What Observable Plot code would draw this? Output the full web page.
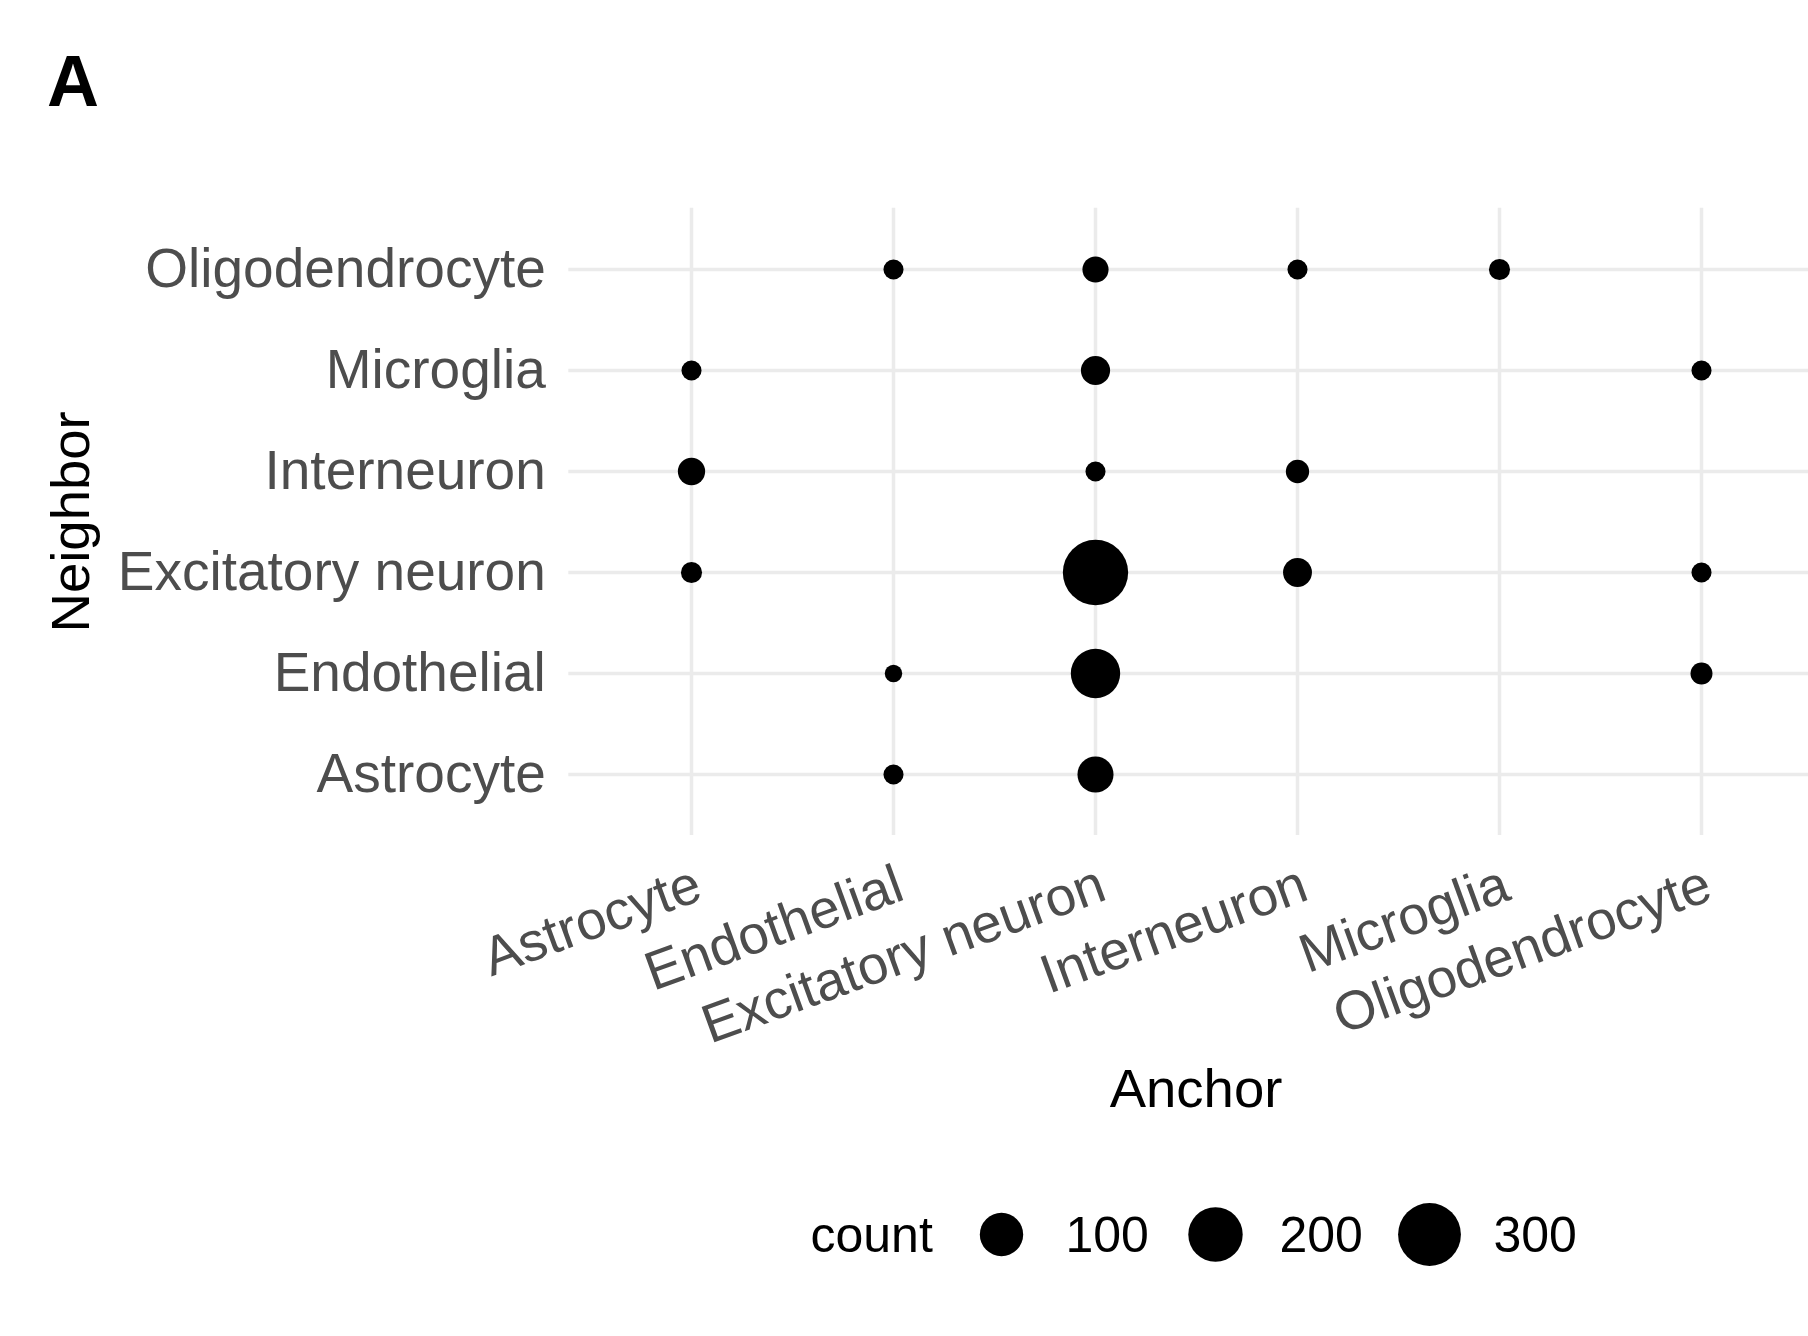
<!DOCTYPE html>
<html>
<head>
<meta charset="utf-8">
<script src="https://cdn.jsdelivr.net/npm/d3@7"></script>
<script src="https://cdn.jsdelivr.net/npm/@observablehq/plot@0.6"></script>
<style>
  html, body { margin: 0; padding: 0; background: #ffffff; overflow: hidden; }
  body { width: 1808px; height: 1336px; position: relative; font-family: "Liberation Sans", Arial, Helvetica, sans-serif; }
  #tag { position: absolute; left: 47px; top: 45px; font-size: 72px; line-height: 72px; font-weight: bold; color: #000; }
  #chart svg, #legend svg { display: block; max-width: none; }
</style>
</head>
<body>
<div id="chart"></div>
<div id="legend"></div>
<div id="tag">A</div>
<script>
// ---- data ----
const anchors = ["Astrocyte", "Endothelial", "Excitatory neuron", "Interneuron", "Microglia", "Oligodendrocyte"];
const neighbors = ["Astrocyte", "Endothelial", "Excitatory neuron", "Interneuron", "Microglia", "Oligodendrocyte"];
// counts per Neighbor row, listed by Anchor (same order as anchors); null = no point
const countsAstrocyte       = [null, 4, 53, null, null, null];
const countsEndothelial     = [null, 3, 150, null, null, 6];
const countsExcitatory      = [5, null, 333, 22, null, 4];
const countsInterneuron     = [17, null, 4, 8, null, null];
const countsMicroglia       = [4, null, 23, null, null, 4];
const countsOligodendrocyte = [null, 4, 14, 4, 5, null];
const legendValues = [100, 200, 300];

const rows = [countsAstrocyte, countsEndothelial, countsExcitatory, countsInterneuron, countsMicroglia, countsOligodendrocyte];
const table = [];
rows.forEach((row, i) => row.forEach((c, j) => {
  if (c != null) table.push({Anchor: anchors[j], Neighbor: neighbors[i], count: c});
}));

// ggplot-like size scale: radius linear in sqrt(count - min)
const cMin = d3.min(table, d => d.count);
const cMax = d3.max(table, d => d.count);
const rScale = {
  type: "linear",
  transform: v => Math.sqrt(Math.max(0, v - cMin)),
  domain: [0, Math.sqrt(cMax - cMin)],
  range: [8.7, 32.65]
};

const font = "Liberation Sans, Arial, Helvetica, sans-serif";
const W = 1808, H = 1140;
const mTop = 207.8, mBottom = H - 834.9, mLeft = 568.3, mRight = W - 1822.8;

const chart = Plot.plot({
  width: W,
  height: H,
  marginTop: mTop,
  marginBottom: mBottom,
  marginLeft: mLeft,
  marginRight: mRight,
  style: {fontFamily: font, background: "white", overflow: "hidden"},
  x: {type: "point", domain: anchors, padding: 0.6, axis: null},
  y: {type: "point", domain: neighbors.slice().reverse(), padding: 0.6, axis: null},
  r: rScale,
  marks: [
    Plot.gridX({stroke: "#EBEBEB", strokeOpacity: 1, strokeWidth: 3.5}),
    Plot.gridY({stroke: "#EBEBEB", strokeOpacity: 1, strokeWidth: 3.5}),
    Plot.dot(table, {x: "Anchor", y: "Neighbor", r: "count", fill: "black", stroke: "none"}),
    // y tick labels
    Plot.text(neighbors, {y: d => d, frameAnchor: "left", textAnchor: "end", dx: -23, fontSize: 55, fill: "#4D4D4D"}),
    // x tick labels (rotated)
    Plot.text(anchors, {x: d => d, frameAnchor: "bottom", textAnchor: "end", lineAnchor: "top", rotate: -20, dy: 27, fontSize: 54.5, fill: "#4D4D4D"}),
    // axis titles
    Plot.text(["Anchor"], {frameAnchor: "bottom", textAnchor: "middle", lineAnchor: "bottom", dy: 1106.7 - 834.9, fontSize: 54.5, fill: "black"}),
    Plot.text(["Neighbor"], {frameAnchor: "left", textAnchor: "middle", lineAnchor: "bottom", rotate: -90, dx: 88 - mLeft, fontSize: 54.5, fill: "black"})
  ]
});
document.getElementById("chart").appendChild(chart);

// ---- legend ----
const LH = 188;
const legend = Plot.plot({
  width: W,
  height: LH,
  marginTop: 0,
  marginBottom: 0,
  marginLeft: 1000.7,
  marginRight: W - 1429.7,
  style: {fontFamily: font, background: "white"},
  x: {type: "point", domain: legendValues, padding: 0, axis: null},
  r: rScale,
  marks: [
    Plot.dot(legendValues, {x: d => d, r: d => d, fill: "black", stroke: "none"}),
    Plot.text(legendValues, {x: d => d, text: d => String(d), textAnchor: "start", dx: 64, dy: 1, fontSize: 50, fill: "black"}),
    Plot.text(["count"], {frameAnchor: "left", textAnchor: "start", dx: 810 - 1000.7, dy: 1, fontSize: 50, fill: "black"})
  ]
});
document.getElementById("legend").appendChild(legend);
</script>
</body>
</html>
